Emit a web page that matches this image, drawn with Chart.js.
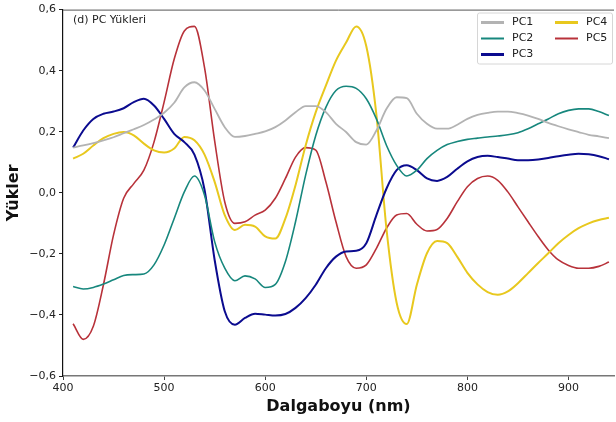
<!DOCTYPE html>
<html lang="tr">
<head>
<meta charset="utf-8">
<title>PC Yükleri</title>
<script src="https://cdn.jsdelivr.net/npm/chart.js@4/dist/chart.umd.min.js"></script>
<style>
  html, body { margin: 0; padding: 0; background: #fff; }
  #wrap { width: 616px; height: 422px; }
</style>
</head>
<body>
<div id="wrap"><canvas id="chartYukler" width="616" height="422"></canvas></div>
<script>
"use strict";

// dalga boyu (nm), 10 nm aralıklarla
const dalgaboyu = [
  410, 420, 430, 440, 450, 460, 470, 480, 490, 500,
  510, 520, 530, 540, 550, 560, 570, 580, 590, 600,
  610, 620, 630, 640, 650, 660, 670, 680, 690, 700,
  710, 720, 730, 740, 750, 760, 770, 780, 790, 800,
  810, 820, 830, 840, 850, 860, 870, 880, 890, 900,
  910, 920, 930, 940
];

const pc1 = [
  0.148, 0.155, 0.163, 0.172, 0.182, 0.195, 0.208, 0.222, 0.240, 0.262,
  0.295, 0.345, 0.362, 0.335, 0.275, 0.215, 0.183, 0.186, 0.193, 0.201,
  0.215, 0.237, 0.264, 0.284, 0.284, 0.264, 0.226, 0.199, 0.166, 0.158,
  0.204, 0.275, 0.313, 0.310, 0.259, 0.226, 0.210, 0.210, 0.223, 0.242,
  0.255, 0.262, 0.266, 0.266, 0.261, 0.253, 0.242, 0.229, 0.218, 0.208,
  0.199, 0.190, 0.185, 0.179
];

const pc2 = [
  -0.307, -0.315, -0.310, -0.299, -0.285, -0.271, -0.268, -0.266, -0.236, -0.171,
  -0.084, 0.003, 0.055, -0.008, -0.160, -0.247, -0.288, -0.272, -0.282, -0.310,
  -0.300, -0.225, -0.095, 0.058, 0.188, 0.280, 0.335, 0.349, 0.342, 0.308,
  0.242, 0.155, 0.090, 0.055, 0.074, 0.112, 0.139, 0.158, 0.168, 0.175,
  0.179, 0.183, 0.186, 0.190, 0.197, 0.210, 0.226, 0.242, 0.259, 0.270,
  0.275, 0.275, 0.266, 0.253
];

const pc3 = [
  0.148, 0.204, 0.242, 0.259, 0.266, 0.277, 0.297, 0.308, 0.286, 0.242,
  0.193, 0.166, 0.125, 0.010, -0.220, -0.388, -0.432, -0.410, -0.396, -0.399,
  -0.402, -0.397, -0.377, -0.345, -0.301, -0.247, -0.209, -0.192, -0.190, -0.165,
  -0.073, 0.014, 0.074, 0.090, 0.074, 0.047, 0.039, 0.052, 0.079, 0.103,
  0.117, 0.121, 0.117, 0.112, 0.107, 0.107, 0.109, 0.114, 0.120, 0.125,
  0.128, 0.126, 0.120, 0.110
];

const pc4 = [
  0.112, 0.128, 0.155, 0.179, 0.193, 0.199, 0.188, 0.161, 0.139, 0.132,
  0.145, 0.183, 0.172, 0.125, 0.036, -0.073, -0.122, -0.105, -0.111, -0.143,
  -0.150, -0.084, 0.025, 0.155, 0.264, 0.351, 0.433, 0.492, 0.545, 0.480,
  0.255, -0.120, -0.360, -0.430, -0.301, -0.198, -0.158, -0.165, -0.210, -0.262,
  -0.300, -0.325, -0.334, -0.323, -0.296, -0.263, -0.230, -0.198, -0.165, -0.138,
  -0.116, -0.100, -0.089, -0.082
];

const pc5 = [
  -0.429, -0.480, -0.437, -0.301, -0.138, -0.018, 0.030, 0.074, 0.166, 0.297,
  0.438, 0.530, 0.545, 0.410, 0.170, -0.030, -0.100, -0.095, -0.073, -0.057,
  -0.018, 0.047, 0.117, 0.148, 0.140, 0.036, -0.095, -0.209, -0.247, -0.236,
  -0.182, -0.116, -0.073, -0.068, -0.103, -0.125, -0.120, -0.084, -0.029, 0.020,
  0.047, 0.055, 0.041, 0.003, -0.046, -0.095, -0.143, -0.187, -0.220, -0.238,
  -0.247, -0.247, -0.241, -0.227
];

const seriler = [
  { ad: "PC1", veri: pc1, renk: "#b3b3b3", kalinlik: 1.8, lejant: 3 },
  { ad: "PC2", veri: pc2, renk: "#17877d", kalinlik: 1.6, lejant: 2 },
  { ad: "PC3", veri: pc3, renk: "#0b0b8f", kalinlik: 2, lejant: 3 },
  { ad: "PC4", veri: pc4, renk: "#e8c81e", kalinlik: 2, lejant: 3 },
  { ad: "PC5", veri: pc5, renk: "#b8323a", kalinlik: 1.6, lejant: 2 }
];

const FONT = "'DejaVu Sans', sans-serif";

// sayıları Türkçe biçimde yaz: virgül ve gerçek eksi işareti
function trSayi(v) {
  const s = Math.abs(v).toFixed(1).replace(".", ",");
  return (v < -1e-9 ? "\u2212" : "") + s;
}

// panel etiketi, üst çerçeve ve iki sütunlu lejant
const ekstralar = {
  id: "ekstralar",
  afterDraw(chart) {
    const ctx = chart.ctx;
    const a = chart.chartArea;
    ctx.save();

    ctx.strokeStyle = "#555";
    ctx.lineWidth = 1;
    ctx.beginPath();
    ctx.moveTo(a.left, a.top + 0.5);
    ctx.lineTo(a.right, a.top + 0.5);
    ctx.stroke();

    ctx.fillStyle = "#222";
    ctx.font = "11px " + FONT;
    ctx.textBaseline = "middle";
    ctx.textAlign = "left";
    ctx.fillText("(d) PC Yükleri", a.left + 10, a.top + 11);

    // lejant kutusu
    const kx = 477, ky = 12.5, kw = 135, kh = 51;
    ctx.fillStyle = "rgba(255,255,255,0.85)";
    ctx.strokeStyle = "#d6d6d6";
    ctx.beginPath();
    ctx.roundRect(kx + 0.5, ky + 0.5, kw, kh, 2);
    ctx.fill();
    ctx.stroke();

    const sutunlar = [[0, 1, 2], [3, 4]];
    const sutunX = [481, 555];
    sutunlar.forEach((idx, c) => {
      idx.forEach((i, r) => {
        const s = seriler[i];
        const y = 22.5 + r * 16;
        ctx.strokeStyle = s.renk;
        ctx.lineWidth = s.lejant;
        ctx.beginPath();
        ctx.moveTo(sutunX[c], y);
        ctx.lineTo(sutunX[c] + 23, y);
        ctx.stroke();
        ctx.fillStyle = "#222";
        ctx.fillText(s.ad, sutunX[c] + 31, y);
      });
    });

    ctx.restore();
  }
};

const ctx = document.getElementById("chartYukler").getContext("2d");

new Chart(ctx, {
  type: "line",
  data: {
    datasets: seriler.map(s => ({
      label: s.ad,
      data: dalgaboyu.map((x, i) => ({ x: x, y: s.veri[i] })),
      borderColor: s.renk,
      backgroundColor: s.renk,
      borderWidth: s.kalinlik,
      pointRadius: 0,
      cubicInterpolationMode: "monotone",
      fill: false
    }))
  },
  options: {
    responsive: false,
    animation: false,
    devicePixelRatio: 1,
    layout: { padding: { left: 0, right: 2, top: 8, bottom: 0 } },
    plugins: {
      legend: { display: false },
      tooltip: { enabled: false }
    },
    scales: {
      x: {
        type: "linear",
        min: 400,
        max: 945,
        afterBuildTicks: (s) => { s.ticks = s.ticks.filter(t => t.value % 100 === 0); },
        afterFit: (s) => { s.height = 46; },
        grid: { display: true, drawOnChartArea: false, drawTicks: true, tickLength: 4, color: "#444" },
        border: { display: true, color: "#777", width: 1.5 },
        ticks: {
          stepSize: 100,
          padding: 2,
          color: "#222",
          font: { family: FONT, size: 11 },
          maxRotation: 0,
          callback: v => String(v)
        },
        title: {
          display: true,
          text: "Dalgaboyu (nm)",
          color: "#111",
          font: { family: FONT, size: 16, weight: "bold" },
          padding: { top: 0, bottom: 6 }
        }
      },
      y: {
        min: -0.6,
        max: 0.6,
        afterFit: (s) => { s.width = 63; },
        grid: { display: true, drawOnChartArea: false, drawTicks: true, tickLength: 4, color: "#222" },
        border: { display: true, color: "#111", width: 1.2 },
        ticks: {
          stepSize: 0.2,
          padding: 3,
          color: "#222",
          font: { family: FONT, size: 11 },
          callback: v => trSayi(v)
        },
        title: {
          display: true,
          text: "Yükler",
          color: "#111",
          font: { family: FONT, size: 16, weight: "bold" },
          padding: { top: 4, bottom: 0 }
        }
      }
    }
  },
  plugins: [ekstralar]
});
</script>
</body>
</html>
